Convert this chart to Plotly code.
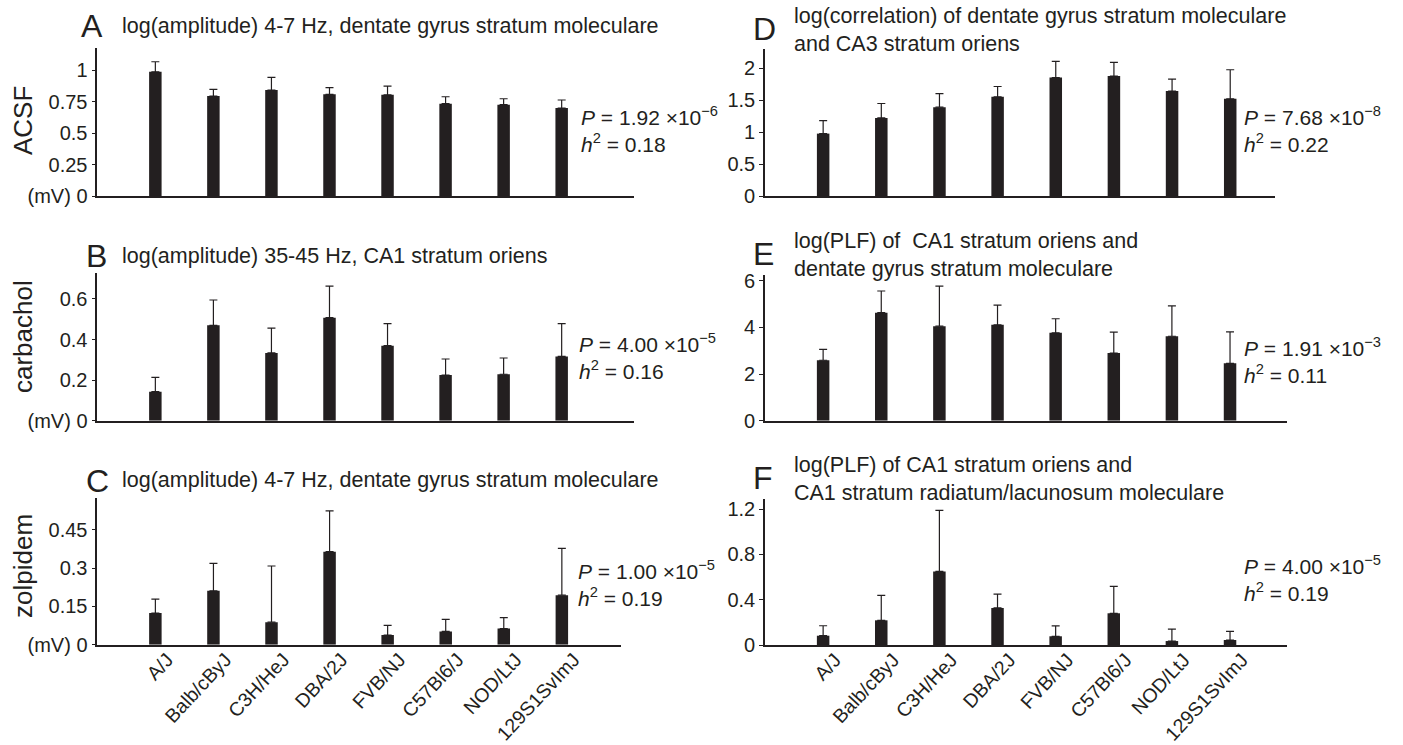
import plotly.graph_objects as go

W, H = 1403, 745

strains = ["A/J", "Balb/cByJ", "C3H/HeJ", "DBA/2J", "FVB/NJ", "C57Bl6/J", "NOD/LtJ", "129S1SvImJ"]

a_mean = [0.986, 0.794, 0.841, 0.807, 0.804, 0.733, 0.725, 0.698]
a_err = [1.066, 0.847, 0.942, 0.860, 0.873, 0.788, 0.772, 0.762]
b_mean = [0.143, 0.470, 0.334, 0.508, 0.370, 0.225, 0.229, 0.317]
b_err = [0.214, 0.595, 0.456, 0.663, 0.478, 0.304, 0.309, 0.478]
c_mean = [0.124, 0.211, 0.088, 0.364, 0.038, 0.052, 0.063, 0.194]
c_err = [0.178, 0.318, 0.308, 0.524, 0.076, 0.099, 0.106, 0.377]
d_mean = [0.976, 1.222, 1.390, 1.552, 1.854, 1.876, 1.641, 1.520]
d_err = [1.180, 1.447, 1.603, 1.713, 2.105, 2.090, 1.829, 1.975]
e_mean = [2.59, 4.63, 4.05, 4.11, 3.77, 2.90, 3.62, 2.46]
e_err = [3.06, 5.56, 5.77, 4.95, 4.37, 3.80, 4.92, 3.81]
f_mean = [0.082, 0.218, 0.650, 0.327, 0.077, 0.280, 0.035, 0.044]
f_err = [0.170, 0.439, 1.189, 0.450, 0.168, 0.518, 0.141, 0.121]

a_ticks = [0, 0.25, 0.5, 0.75, 1]
a_ticktext = ["(mV) 0", "0.25", "0.5", "0.75", "1"]
b_ticks = [0, 0.2, 0.4, 0.6]
b_ticktext = ["(mV) 0", "0.2", "0.4", "0.6"]
c_ticks = [0, 0.15, 0.3, 0.45]
c_ticktext = ["(mV) 0", "0.15", "0.3", "0.45"]
d_ticks = [0, 0.5, 1, 1.5, 2]
d_ticktext = ["0", "0.5", "1", "1.5", "2"]
e_ticks = [0, 2, 4, 6]
e_ticktext = ["0", "2", "4", "6"]
f_ticks = [0, 0.4, 0.8, 1.2]
f_ticktext = ["0", "0.4", "0.8", "1.2"]

FONT = "Liberation Sans, Arial, Helvetica, sans-serif"
INK = "#231f20"

# panel geometry in pixels
panels = [
    dict(mean=a_mean, err=a_err, tv=a_ticks, tt=a_ticktext, x0=97.3, x1=634, yb=196, yt=48, ymax=1.175, xr=8.246, labels=False),
    dict(mean=b_mean, err=b_err, tv=b_ticks, tt=b_ticktext, x0=97.3, x1=634, yb=420.7, yt=273, ymax=0.728, xr=8.246, labels=False),
    dict(mean=c_mean, err=c_err, tv=c_ticks, tt=c_ticktext, x0=97.3, x1=620.5, yb=644.7, yt=498.3, ymax=0.573, xr=8.01, labels=True),
    dict(mean=d_mean, err=d_err, tv=d_ticks, tt=d_ticktext, x0=765, x1=1275, yb=196, yt=49, ymax=2.30, xr=7.77, labels=False),
    dict(mean=e_mean, err=e_err, tv=e_ticks, tt=e_ticktext, x0=765, x1=1287, yb=420.7, yt=275, ymax=6.245, xr=7.98, labels=False),
    dict(mean=f_mean, err=f_err, tv=f_ticks, tt=f_ticktext, x0=765, x1=1287, yb=645, yt=499, ymax=1.289, xr=7.98, labels=True),
]

fig = go.Figure()
layout = dict(
    width=W, height=H, margin=dict(l=0, r=0, t=0, b=0, autoexpand=False),
    paper_bgcolor="white", plot_bgcolor="white", showlegend=False,
    font=dict(family=FONT, color=INK, size=20),
)

for i, p in enumerate(panels):
    n = "" if i == 0 else str(i + 1)
    xa, ya = "x" + n, "y" + n
    upper = [e - m for m, e in zip(p["mean"], p["err"])]
    fig.add_trace(go.Bar(
        x=strains, y=p["mean"], xaxis=xa, yaxis=ya, width=0.215,
        marker=dict(color=INK, line=dict(width=0)),
        error_y=dict(type="data", symmetric=False, array=upper,
                     arrayminus=[0] * len(upper), color=INK, thickness=1.2, width=4),
    ))
    layout["xaxis" + n] = dict(
        domain=[p["x0"] / W, p["x1"] / W], anchor=ya, type="category",
        range=[-1, p["xr"]], showline=True, linecolor=INK, linewidth=1.6,
        showgrid=False, zeroline=False, ticks="", automargin=False,
        showticklabels=p["labels"], tickangle=-47, ticklabelshift=12,
        ticklabelstandoff=-6,
        tickfont=dict(size=19.5, family=FONT, color=INK),
    )
    layout["yaxis" + n] = dict(
        domain=[(H - p["yb"]) / H, (H - p["yt"]) / H], anchor=xa,
        range=[0, p["ymax"]], showline=True, linecolor=INK, linewidth=1.6,
        showgrid=False, zeroline=False, ticks="outside", ticklen=4,
        tickcolor=INK, tickwidth=1.2, automargin=False,
        tickvals=p["tv"], ticktext=p["tt"],
        tickfont=dict(size=20, family=FONT, color=INK),
    )

fig.update_layout(**layout)


def ann(x, y, text, size=21.5, xanchor="left", yanchor="middle", angle=0, align="left"):
    fig.add_annotation(x=x / W, y=1 - y / H, xref="paper", yref="paper", text=text,
                       showarrow=False, xanchor=xanchor, yanchor=yanchor, textangle=angle,
                       align=align, borderpad=0, font=dict(size=size, family=FONT, color=INK))


# panel letters
ann(80, 26, "A", size=32)
ann(85, 256, "B", size=32)
ann(85, 481, "C", size=32)
ann(752, 29, "D", size=32)
ann(752, 254, "E", size=32)
ann(752, 478, "F", size=32)

# panel titles
ann(121, 26, "log(amplitude) 4-7 Hz, dentate gyrus stratum moleculare")
ann(121, 256, "log(amplitude) 35-45 Hz, CA1 stratum oriens")
ann(121, 480, "log(amplitude) 4-7 Hz, dentate gyrus stratum moleculare")
ann(793, 30, "log(correlation) of dentate gyrus stratum moleculare<br>and CA3 stratum oriens")
ann(793, 255, "log(PLF) of  CA1 stratum oriens and<br>dentate gyrus stratum moleculare")
ann(793, 479, "log(PLF) of CA1 stratum oriens and<br>CA1 stratum radiatum/lacunosum moleculare")

# y-axis condition labels
ann(23, 121, "ACSF", size=26, xanchor="center", angle=-90)
ann(23, 337, "carbachol", size=26, xanchor="center", angle=-90)
ann(23, 566, "zolpidem", size=26, xanchor="center", angle=-90)

# statistics
ann(580, 129, "<i>P</i> = 1.92 ×10<sup>−6</sup><br><i>h</i><sup>2</sup> = 0.18", size=21)
ann(578, 356, "<i>P</i> = 4.00 ×10<sup>−5</sup><br><i>h</i><sup>2</sup> = 0.16", size=21)
ann(577, 583, "<i>P</i> = 1.00 ×10<sup>−5</sup><br><i>h</i><sup>2</sup> = 0.19", size=21)
ann(1243, 129, "<i>P</i> = 7.68 ×10<sup>−8</sup><br><i>h</i><sup>2</sup> = 0.22", size=21)
ann(1243, 360, "<i>P</i> = 1.91 ×10<sup>−3</sup><br><i>h</i><sup>2</sup> = 0.11", size=21)
ann(1243, 578, "<i>P</i> = 4.00 ×10<sup>−5</sup><br><i>h</i><sup>2</sup> = 0.19", size=21)

fig.write_html("out.html", post_script="document.body.style.margin='0px';",
               config={"displayModeBar": False})
